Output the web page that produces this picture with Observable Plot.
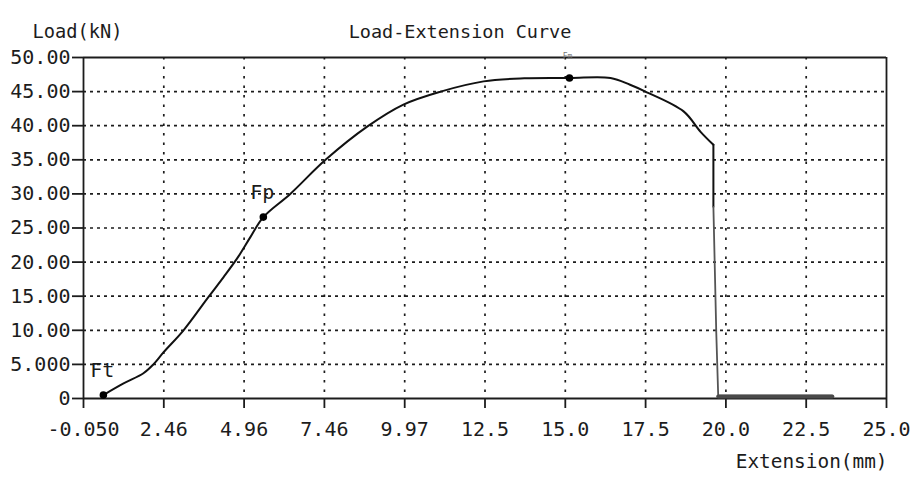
<!DOCTYPE html>
<html>
<head>
<meta charset="utf-8">
<script src="https://cdn.jsdelivr.net/npm/d3@7"></script>
<script src="https://cdn.jsdelivr.net/npm/@observablehq/plot@0.6"></script>
<style>
  html, body { margin: 0; padding: 0; background: #fff; }
  #chart svg { display: block; }
</style>
</head>
<body>
<div id="chart"></div>
<script>
// Tensile test: load vs. extension
const extension = [0.57, 1.2, 1.82, 2.13, 2.45, 3.07, 3.85, 4.32, 4.78, 5.16, 5.56,
  6.4, 7.5, 8.81, 9.93, 11.09, 12.43, 13.7, 15.11, 16.39, 17.0, 17.48, 18.67, 19.2, 19.6];
const load = [0.5, 2.2, 3.7, 5.0, 6.8, 10.0, 14.9, 17.8, 20.8, 23.7, 26.6,
  30.0, 35.0, 39.9, 43.1, 45.0, 46.5, 46.95, 47.0, 47.0, 46.0, 45.0, 42.1, 39.1, 37.2];

// Fracture: sudden drop, then residual reading after break
const breakExtension = [19.6, 19.6];
const breakLoad = [37.2, 28.1];
const residualExtension = [19.6, 19.69, 19.75, 23.31];
const residualLoad = [28.1, 9.6, 0.4, 0.4];
const tailExtension = [19.75, 23.31];
const tailLoad = [0.3, 0.3];

// Characteristic points
const pointNames = ["Ft", "Fp", "Fm"];
const pointExtension = [0.57, 5.56, 15.11];
const pointLoad = [0.5, 26.6, 47.0];

// Axis ticks and their printed labels
const xTicks = [-0.05, 2.455, 4.96, 7.465, 9.97, 12.475, 14.98, 17.485, 19.99, 22.495, 25.0];
const xTickLabels = ["-0.050", "2.46", "4.96", "7.46", "9.97", "12.5", "15.0", "17.5", "20.0", "22.5", "25.0"];
const yTicks = [0, 5, 10, 15, 20, 25, 30, 35, 40, 45, 50];
const yTickLabels = ["0", "5.000", "10.00", "15.00", "20.00", "25.00", "30.00", "35.00", "40.00", "45.00", "50.00"];

const title = "Load-Extension Curve";
const yTitle = "Load(kN)";
const xTitle = "Extension(mm)";

const curve = extension.map((x, i) => ({x, y: load[i]}));
const breakLine = breakExtension.map((x, i) => ({x, y: breakLoad[i]}));
const residual = residualExtension.map((x, i) => ({x, y: residualLoad[i]}));
const tail = tailExtension.map((x, i) => ({x, y: tailLoad[i]}));
const points = pointNames.map((name, i) => ({name, x: pointExtension[i], y: pointLoad[i]}));

const xLabel = new Map(xTicks.map((t, i) => [t, xTickLabels[i]]));
const yLabel = new Map(yTicks.map((t, i) => [t, yTickLabels[i]]));

const ink = "#1c1c1c";
const font = "'DejaVu Sans Mono', 'Liberation Mono', monospace";

const chart = Plot.plot({
  width: 918,
  height: 482,
  marginLeft: 83,
  marginRight: 32,
  marginTop: 57,
  marginBottom: 84,
  x: {domain: [-0.05, 25.0], axis: null},
  y: {domain: [0, 50], axis: null},
  style: {fontFamily: font, fontSize: "20px", color: ink, background: "#fff"},
  marks: [
    // dashed horizontal and dotted vertical grid
    Plot.gridY(yTicks.slice(1, -1), {stroke: ink, strokeOpacity: 1, strokeWidth: 1.7, strokeDasharray: "3,4"}),
    Plot.gridX(xTicks.slice(1, -1), {stroke: ink, strokeOpacity: 1, strokeWidth: 1.7, strokeDasharray: "2.5,7"}),
    // plot border
    Plot.ruleY([0, 50], {stroke: ink, strokeWidth: 2}),
    Plot.ruleX([-0.05, 25.0], {stroke: ink, strokeWidth: 1.8}),
    // axes
    Plot.axisX(xTicks, {
      tickFormat: d => xLabel.get(d), tickSize: 10, tickPadding: 13,
      fontSize: 20, label: null, color: ink, strokeWidth: 1.8
    }),
    Plot.axisY(yTicks, {
      tickFormat: d => yLabel.get(d), tickSize: 11, tickPadding: 2,
      fontSize: 20, label: null, color: ink, strokeWidth: 1.8
    }),
    // load curve
    Plot.line(curve, {x: "x", y: "y", stroke: "#111", strokeWidth: 2, curve: "catmull-rom"}),
    Plot.line(breakLine, {x: "x", y: "y", stroke: "#111", strokeWidth: 2}),
    Plot.line(residual, {x: "x", y: "y", stroke: "#555", strokeWidth: 1.8}),
    Plot.line(tail, {x: "x", y: "y", stroke: "#4a4a4a", strokeWidth: 4}),
    // characteristic points
    Plot.dot(points, {x: "x", y: "y", r: 3.8, fill: "#000", stroke: null}),
    Plot.text(points.filter(d => d.name !== "Fm"), {
      x: "x", y: "y", text: "name", dy: -24, dx: -1, fontSize: 20, fill: ink
    }),
    Plot.text(points.filter(d => d.name === "Fm"), {
      x: "x", y: "y", text: "name", dy: -22, dx: -2, fontSize: 8, fill: "#777"
    }),
    // titles
    Plot.text([title], {frameAnchor: "top", dx: -25, dy: -33, fontSize: 18.5, fill: ink}),
    Plot.text([yTitle], {frameAnchor: "top-left", textAnchor: "start", dx: -51, dy: -33, fontSize: 18.7, fill: ink}),
    Plot.text([xTitle], {frameAnchor: "bottom-right", textAnchor: "end", dx: 1, dy: 69, fontSize: 19.4, fill: ink})
  ]
});

document.getElementById("chart").appendChild(chart);
</script>
</body>
</html>
